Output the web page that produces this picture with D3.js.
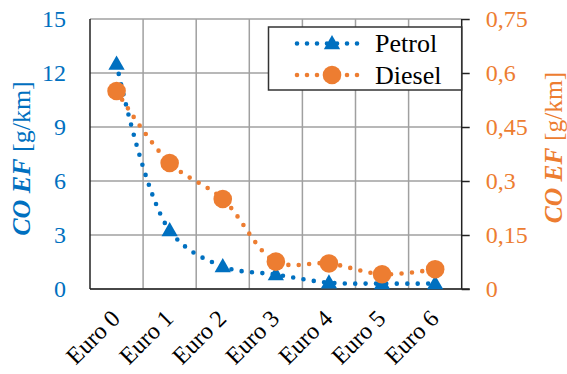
<!DOCTYPE html>
<html><head><meta charset="utf-8">
<script src="https://cdn.jsdelivr.net/npm/d3@7"></script>
<style>
html,body{margin:0;padding:0;background:#fff;}
svg{display:block;}
</style></head>
<body><svg id="c" width="567" height="374" font-family="Liberation Serif"></svg>
<script>
const categories = ["Euro 0","Euro 1","Euro 2","Euro 3","Euro 4","Euro 5","Euro 6"];
const petrol = [12.5, 3.25, 1.25, 0.8, 0.35, 0.3, 0.3];
const diesel = [0.55, 0.35, 0.25, 0.076, 0.071, 0.041, 0.055];
const leftTicks = [0, 3, 6, 9, 12, 15];
const rightTicks = [0, 0.15, 0.3, 0.45, 0.6, 0.75];
const rightTickLabels = ["0", "0,15", "0,3", "0,45", "0,6", "0,75"];
const seriesNames = ["Petrol", "Diesel"];

const FONT = "Liberation Serif";
const BLUE = "#0070C0", ORANGE = "#ED7D31", GRID = "#A0A0A0";
const L = 90, R = 461.7, T = 19, B = 289;
const svg = d3.select("#c");

const x = d3.scaleBand().domain(categories).range([L, R]).paddingInner(0).paddingOuter(0);
const yL = d3.scaleLinear().domain([0, 15]).range([B, T]);
const yR = d3.scaleLinear().domain([0, 0.75]).range([B, T]);

// horizontal gridlines
svg.append("g").selectAll("line").data(leftTicks).join("line")
  .attr("x1", L).attr("x2", R).attr("y1", d => yL(d)).attr("y2", d => yL(d))
  .attr("stroke", GRID).attr("stroke-width", 1.5);
// vertical gridlines at category boundaries
svg.append("g").selectAll("line").data(categories.slice(1)).join("line")
  .attr("x1", d => x(d)).attr("x2", d => x(d)).attr("y1", T).attr("y2", B)
  .attr("stroke", GRID).attr("stroke-width", 1.5);

// axes lines
svg.append("line").attr("x1", L).attr("x2", L).attr("y1", T).attr("y2", B).attr("stroke", "#222").attr("stroke-width", 1.5);
svg.append("line").attr("x1", L).attr("x2", R + 8).attr("y1", B).attr("y2", B).attr("stroke", "#222").attr("stroke-width", 1.5);

// right axis
const axR = d3.axisRight(yR).tickValues(rightTicks).tickSize(8).tickFormat((d, i) => rightTickLabels[i]);
const gR = svg.append("g").attr("transform", `translate(${R},0)`).call(axR)
  .attr("font-family", FONT).attr("font-size", 24);
gR.select(".domain").attr("stroke", "#222").attr("stroke-width", 1.5).attr("d", `M0,${T}V${B}`);
gR.selectAll(".tick line").attr("stroke", "#222").attr("stroke-width", 1.5);
gR.selectAll(".tick text").attr("x", 24).attr("fill", ORANGE);

// left axis labels
const axL = d3.axisLeft(yL).tickValues(leftTicks).tickSize(0).tickPadding(24);
const gL = svg.append("g").attr("transform", `translate(${L},0)`).call(axL)
  .attr("font-family", FONT).attr("font-size", 24);
gL.select(".domain").remove();
gL.selectAll(".tick text").attr("fill", BLUE);

// x labels
svg.append("g").attr("font-family", FONT).selectAll("text").data(categories).join("text")
  .attr("transform", d => `translate(${x(d) + x.bandwidth() / 2 + 5},${B + 31}) rotate(-45)`)
  .attr("text-anchor", "end")
  .attr("font-size", 24).attr("fill", "#000").text(d => d);

// axis titles
function title(xp, yp, color, size) {
  const t = svg.append("text").attr("transform", `translate(${xp},${yp}) rotate(-90)`)
    .attr("text-anchor", "middle").attr("fill", color).attr("font-family", FONT).attr("font-size", size);
  t.append("tspan").attr("font-weight", "bold").attr("font-style", "italic").text("CO EF");
  t.append("tspan").text(" [g/km]");
}
title(30, 158.5, BLUE, 26);
title(562, 147.5, ORANGE, 25.5);

// lines
const cx = d => x(d) + x.bandwidth() / 2;
const lineP = d3.line().x((d, i) => cx(categories[i])).y(d => yL(d)).curve(d3.curveCatmullRom.alpha(0.5));
const lineD = d3.line().x((d, i) => cx(categories[i])).y(d => yR(d)).curve(d3.curveCatmullRom.alpha(0.5));
const dotStyle = sel => sel.attr("fill", "none").attr("stroke-width", 4.6).attr("stroke-linecap", "round").attr("stroke-dasharray", "0 10.4");

const tri = d3.symbol().type(d3.symbolTriangle).size(115);

svg.append("path").datum(petrol).attr("d", lineP).attr("stroke", BLUE).call(dotStyle);
svg.append("g").selectAll("path").data(petrol).join("path")
  .attr("d", tri).attr("transform", (d, i) => `translate(${cx(categories[i])},${yL(d) + 1})`).attr("fill", BLUE);

svg.append("path").datum(diesel).attr("d", lineD).attr("stroke", ORANGE).call(dotStyle);
svg.append("g").selectAll("circle").data(diesel).join("circle")
  .attr("cx", (d, i) => cx(categories[i])).attr("cy", d => yR(d)).attr("r", 9.3).attr("fill", ORANGE);

// legend
const lg = svg.append("g").attr("font-family", FONT);
lg.append("rect").attr("x", 268.5).attr("y", 27).attr("width", R - 268.5).attr("height", 63)
  .attr("fill", "#fff").attr("stroke", "#333").attr("stroke-width", 1.5);
const legY = [43.5, 75];
const legColors = [BLUE, ORANGE];
seriesNames.forEach((n, i) => {
  lg.append("line").attr("x1", 297).attr("x2", 367).attr("y1", legY[i]).attr("y2", legY[i])
    .attr("stroke", legColors[i]).call(dotStyle).attr("stroke-dasharray", "0 10");
  if (i === 0) lg.append("path").attr("d", tri).attr("transform", `translate(332,${legY[i] + 1})`).attr("fill", BLUE);
  else lg.append("circle").attr("cx", 332).attr("cy", legY[i]).attr("r", 9.3).attr("fill", ORANGE);
  lg.append("text").attr("x", 375).attr("y", legY[i] + 8.5).attr("font-size", 26).attr("fill", "#000").text(n);
});
</script></body></html>
